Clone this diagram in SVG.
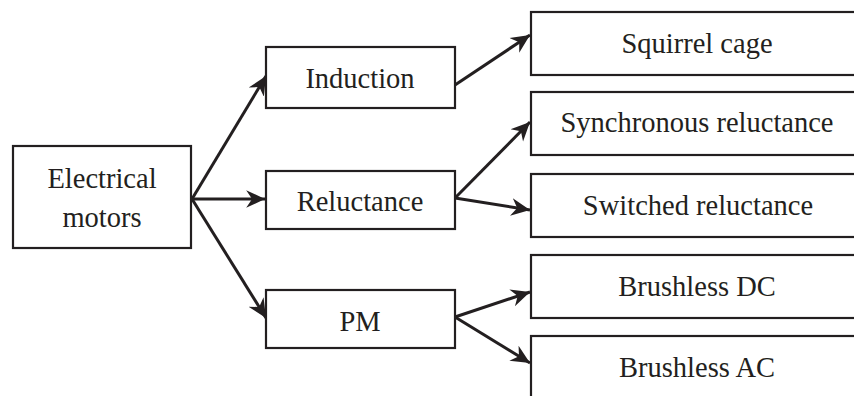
<svg xmlns="http://www.w3.org/2000/svg" width="854" height="396" viewBox="0 0 854 396">
<defs>
<style>
.box{fill:#fff;stroke:#231f20;stroke-width:2.2}
.t{font-family:"Liberation Serif","Times New Roman",serif;font-size:28.5px;fill:#231f20;text-anchor:middle}
.c{stroke:#231f20;stroke-width:3;fill:none;marker-end:url(#ah)}
</style>
<marker id="ah" markerUnits="userSpaceOnUse" markerWidth="20" markerHeight="20" viewBox="-16 -8 17 16" refX="0" refY="0" orient="auto">
<path d="M0,0 L-16,-7.5 L-11,0 L-16,7.5 Z" fill="#231f20"/>
</marker>
</defs>
<rect width="854" height="396" fill="#fff"/>
<g id="connectors">
<line class="c" x1="192" y1="199" x2="266" y2="76"/>
<line class="c" x1="192" y1="199" x2="265" y2="199"/>
<line class="c" x1="192" y1="199" x2="266" y2="318"/>
<line class="c" x1="455" y1="85" x2="530" y2="35"/>
<line class="c" x1="455" y1="198" x2="530" y2="122"/>
<line class="c" x1="455" y1="198" x2="530" y2="210"/>
<line class="c" x1="455" y1="317" x2="530" y2="292"/>
<line class="c" x1="455" y1="317" x2="530" y2="363"/>
</g>
<g id="electrical">
<rect class="box" x="13" y="146" width="178" height="102"/>
<text class="t" x="102" y="188">Electrical</text>
<text class="t" x="102" y="227">motors</text>
</g>
<g id="induction">
<rect class="box" x="266" y="47" width="189" height="61"/>
<text class="t" x="360" y="88">Induction</text>
</g>
<g id="reluctance">
<rect class="box" x="266" y="171" width="189" height="58"/>
<text class="t" x="360" y="211">Reluctance</text>
</g>
<g id="pm">
<rect class="box" x="266" y="290" width="189" height="58"/>
<text class="t" x="360" y="331">PM</text>
</g>
<g id="squirrel">
<rect class="box" x="531" y="12" width="340" height="63"/>
<text class="t" x="697" y="53">Squirrel cage</text>
</g>
<g id="synchronous">
<rect class="box" x="531" y="92" width="340" height="63"/>
<text class="t" x="697" y="132">Synchronous reluctance</text>
</g>
<g id="switched">
<rect class="box" x="531" y="174" width="340" height="63"/>
<text class="t" x="698" y="215">Switched reluctance</text>
</g>
<g id="bldc">
<rect class="box" x="531" y="255" width="340" height="63"/>
<text class="t" x="697" y="296">Brushless DC</text>
</g>
<g id="blac">
<rect class="box" x="531" y="336" width="340" height="80"/>
<text class="t" x="697" y="377">Brushless AC</text>
</g>
</svg>
